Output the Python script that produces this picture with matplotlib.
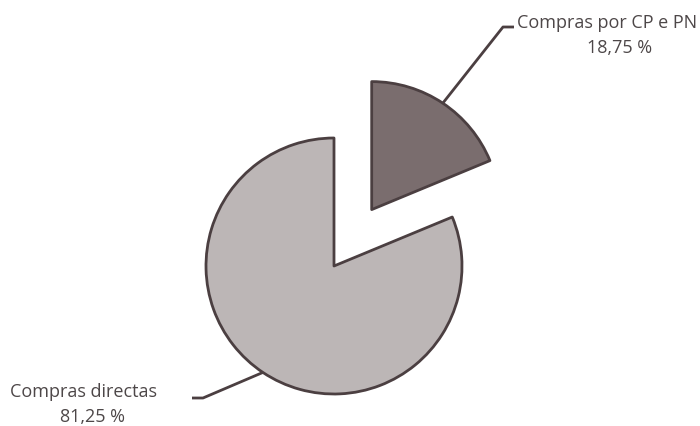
import numpy as np
import matplotlib
matplotlib.use("Agg")
import matplotlib.pyplot as plt

labels = ["Compras por CP e PN", "Compras directas"]
values = [18.75, 81.25]
pct_labels = ["18,75 %", "81,25 %"]
colors = ["#7a6d6e", "#bcb6b6"]
edge = "#4b3f41"
text_color = "#4d4748"

W, H = 700, 426
fig = plt.figure(figsize=(W / 100, H / 100), dpi=100)
ax = fig.add_axes([0, 0, 1, 1])

R = 128
cx, cy = 334, H - 266
wedges, _ = ax.pie(values, radius=R, center=(cx, cy), startangle=90,
                   counterclock=False, explode=[0.53 * R, 0], colors=colors,
                   wedgeprops=dict(edgecolor=edge, linewidth=2, joinstyle="round"),
                   frame=True)
ax.set_xlim(0, W)
ax.set_ylim(0, H)
ax.set_aspect("equal")
ax.axis("off")

fs = 13
fam = "Open Sans"
lc = "#4b3f41"
# small slice
w = wedges[0]
mid = np.deg2rad((w.theta1 + w.theta2) / 2)
x0, y0 = w.center[0] + w.r * np.cos(mid), w.center[1] + w.r * np.sin(mid)
ax.plot([x0, 503, 514], [y0, H - 27, H - 27], color=lc, lw=2, solid_capstyle="butt")
ax.text(517, H - 23, labels[0], color=text_color, fontsize=fs, family=fam,
        ha="left", va="center")
ax.text(620, H - 48, pct_labels[0], color=text_color, fontsize=fs, family=fam,
        ha="center", va="center")

# large slice
w = wedges[1]
mid = np.deg2rad((w.theta1 + w.theta2) / 2)
x0, y0 = w.center[0] + w.r * np.cos(mid), w.center[1] + w.r * np.sin(mid)
ax.plot([x0, 203, 192], [y0, H - 398, H - 398], color=lc, lw=2, solid_capstyle="butt")
ax.text(10, H - 392, labels[1], color=text_color, fontsize=fs, family=fam,
        ha="left", va="center")
ax.text(93, H - 417, pct_labels[1], color=text_color, fontsize=fs, family=fam,
        ha="center", va="center")

fig.savefig("out.png", dpi=100, facecolor="white")
